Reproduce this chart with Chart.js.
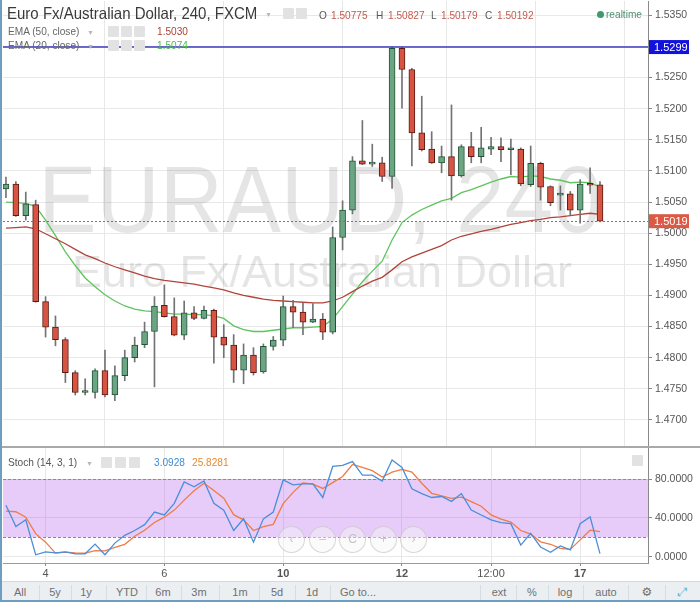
<!DOCTYPE html>
<html>
<head>
<meta charset="utf-8">
<title>EURAUD, 240</title>
<script src="https://cdn.jsdelivr.net/npm/chart.js@4.4.1/dist/chart.umd.min.js"></script>
<style>
html, body { margin: 0; padding: 0; background: #fff; }
body { width: 700px; height: 602px; overflow: hidden; font-family: "Liberation Sans", Arial, sans-serif; }
#wrap { position: relative; width: 700px; height: 602px; }
#main-box { position: absolute; left: 0; top: 0; width: 700px; height: 447px; }
#stoch-box { position: absolute; left: 0; top: 447px; width: 700px; height: 134px; }
canvas { display: block; }
.t { position: absolute; white-space: nowrap; line-height: 1; transform-origin: 0 50%; transform: scaleX(0.92); }
.dd { position: absolute; font-size: 7px; line-height: 1; color: #b8b8b8; }
.ico { position: absolute; width: 11px; height: 11px; background: #e2e2e2; border-radius: 1px; }
.nav { position: absolute; top: 526px; width: 25px; height: 25px; border-radius: 50%;
       border: 1px solid rgba(185, 185, 185, 0.55); background: rgba(246, 246, 246, 0.45);
       color: #c4c4c4; font-size: 12px; line-height: 25px; text-align: center; }
#tb { position: absolute; left: 0; top: 581px; width: 700px; height: 21px; background: #ebeff2; border-top: 1px solid #d3d9de; }
.tbi { position: absolute; top: 5px; width: 50px; margin-left: -25px; text-align: center; font-size: 11px; line-height: 1; color: #707070; }
.tbs { position: absolute; top: 3px; width: 1px; height: 15px; background: #d6dce1; }
</style>
</head>
<body>
<div id="wrap">
  <div id="main-box"><canvas id="main"></canvas></div>
  <div style="position:absolute;left:0;top:446px;width:700px;height:2px;background:#a9a9a9"></div>
  <div id="stoch-box"><canvas id="stoch"></canvas></div>

  <!-- header legend -->
  <div class="t" style="left:7px;top:5px;font-size:16.5px;color:#3a3a3a;transform:scaleX(0.91)">Euro Fx/Australian Dollar, 240, FXCM</div>
  <div class="dd" style="left:265px;top:11px">▼</div>
  <div class="ico" style="left:283px;top:8px"></div>
  <div class="ico" style="left:296px;top:8px"></div>
  <div class="t" style="left:319px;top:10px;font-size:11px;color:#555">O</div>
  <div class="t" style="left:331px;top:10px;font-size:11px;color:#c05a4c">1.50775</div>
  <div class="t" style="left:376px;top:10px;font-size:11px;color:#555">H</div>
  <div class="t" style="left:388px;top:10px;font-size:11px;color:#c05a4c">1.50827</div>
  <div class="t" style="left:431px;top:10px;font-size:11px;color:#555">L</div>
  <div class="t" style="left:441px;top:10px;font-size:11px;color:#c05a4c">1.50179</div>
  <div class="t" style="left:485px;top:10px;font-size:11px;color:#555">C</div>
  <div class="t" style="left:497px;top:10px;font-size:11px;color:#c05a4c">1.50192</div>
  <div style="position:absolute;left:597px;top:11px;width:7px;height:7px;border-radius:50%;background:#3d9a6e"></div>
  <div class="t" style="left:606px;top:9px;font-size:11px;color:#4f8f70">realtime</div>

  <div class="t" style="left:8px;top:26px;font-size:11px;color:#666">EMA (50, close)</div>
  <div class="dd" style="left:87px;top:29px">▼</div>
  <div class="ico" style="left:108px;top:26px"></div>
  <div class="ico" style="left:121px;top:26px"></div>
  <div class="ico" style="left:134px;top:26px"></div>
  <div class="t" style="left:157px;top:26px;font-size:11px;color:#a8443b">1.5030</div>

  <div class="t" style="left:8px;top:40px;font-size:11px;color:#666">EMA (20, close)</div>
  <div class="dd" style="left:87px;top:43px">▼</div>
  <div class="ico" style="left:108px;top:40px"></div>
  <div class="ico" style="left:121px;top:40px"></div>
  <div class="ico" style="left:134px;top:40px"></div>
  <div class="t" style="left:157px;top:40px;font-size:11px;color:#4cbc4c">1.5074</div>

  <!-- stoch legend -->
  <div class="t" style="left:8px;top:457px;font-size:11px;color:#555">Stoch (14, 3, 1)</div>
  <div class="dd" style="left:86px;top:460px">▼</div>
  <div class="ico" style="left:101px;top:457px"></div>
  <div class="ico" style="left:115px;top:457px"></div>
  <div class="ico" style="left:129px;top:457px"></div>
  <div class="t" style="left:154px;top:457px;font-size:11px;color:#3f8ad2">3.0928</div>
  <div class="t" style="left:192px;top:457px;font-size:11px;color:#e8892e">25.8281</div>
  <div class="ico" style="left:632px;top:455px"></div>

  <div class="nav" style="left:278px">&lsaquo;</div>
  <div class="nav" style="left:309px">&ndash;</div>
  <div class="nav" style="left:339px">C</div>
  <div class="nav" style="left:370px">+</div>
  <div class="nav" style="left:400px">&rsaquo;</div>

  <!-- bottom toolbar -->
  <div id="tb">
    <div class="tbi" style="left:20px">All</div>
    <div class="tbs" style="left:39px"></div>
    <div class="tbi" style="left:55px">5y</div>
    <div class="tbs" style="left:71px"></div>
    <div class="tbi" style="left:86px">1y</div>
    <div class="tbs" style="left:106px"></div>
    <div class="tbi" style="left:127px">YTD</div>
    <div class="tbs" style="left:146px"></div>
    <div class="tbi" style="left:163px">6m</div>
    <div class="tbs" style="left:181px"></div>
    <div class="tbi" style="left:199px">3m</div>
    <div class="tbs" style="left:219px"></div>
    <div class="tbi" style="left:240px">1m</div>
    <div class="tbs" style="left:259px"></div>
    <div class="tbi" style="left:277px">5d</div>
    <div class="tbs" style="left:295px"></div>
    <div class="tbi" style="left:312px">1d</div>
    <div class="tbs" style="left:330px"></div>
    <div class="tbi" style="left:358px;width:60px;margin-left:-30px">Go to...</div>
    <div class="tbs" style="left:480px"></div>
    <div class="tbi" style="left:499px">ext</div>
    <div class="tbs" style="left:516px"></div>
    <div class="tbi" style="left:532px">%</div>
    <div class="tbs" style="left:548px"></div>
    <div class="tbi" style="left:565px">log</div>
    <div class="tbs" style="left:583px"></div>
    <div class="tbi" style="left:606px">auto</div>
    <div class="tbs" style="left:628px"></div>
    <div class="tbi" style="left:647px;font-family:'DejaVu Sans';font-size:12px;top:4px">⚙</div>
    <div class="tbs" style="left:665px"></div>
    <div class="tbi" style="left:683px;font-family:'DejaVu Sans';font-size:12px;top:4px;color:#6aaecb">⤢</div>
  </div>

  <div style="position:absolute;left:0;top:0;width:2px;height:602px;background:#6d9ec0"></div>
  <div style="position:absolute;left:0;top:600px;width:700px;height:2px;background:#6d9ec0"></div>
</div>

<script>
// 240 minute candles
const opens = [1.5071, 1.5079, 1.5028, 1.5046, 1.4890, 1.4849, 1.4829, 1.4776, 1.4744, 1.4744,
  1.4779, 1.4740, 1.4771, 1.4800, 1.4821, 1.4842, 1.4884, 1.4866, 1.4836, 1.4872,
  1.4863, 1.4876, 1.4833, 1.4820, 1.4780, 1.4804, 1.4777, 1.4818, 1.4828, 1.4882,
  1.4873, 1.4857, 1.4862, 1.4841, 1.4993, 1.5037, 1.5116, 1.5111, 1.5113, 1.5091,
  1.5297, 1.5263, 1.5161, 1.5135, 1.5113, 1.5123, 1.5092, 1.5139, 1.5123, 1.5135,
  1.5139, 1.5134, 1.5135, 1.5078, 1.5112, 1.5075, 1.5061, 1.5063, 1.5037, 1.5079, 1.50775];
const highs = [1.5090, 1.5083, 1.5066, 1.5053, 1.4898, 1.4867, 1.4832, 1.4779, 1.4766, 1.4782,
  1.4812, 1.4787, 1.4812, 1.4833, 1.4857, 1.4898, 1.4917, 1.4896, 1.4891, 1.4882,
  1.4883, 1.4878, 1.4853, 1.4837, 1.4822, 1.4816, 1.4822, 1.4834, 1.4899, 1.4892,
  1.4888, 1.4887, 1.4871, 1.5010, 1.5052, 1.5123, 1.5181, 1.5143, 1.5122, 1.5299,
  1.5299, 1.5265, 1.5220, 1.5163, 1.5140, 1.5206, 1.5142, 1.5162, 1.5170, 1.5154,
  1.5153, 1.5151, 1.5137, 1.5140, 1.5114, 1.5076, 1.5076, 1.5067, 1.5086, 1.5105, 1.50827];
const lows = [1.5057, 1.5027, 1.5021, 1.4889, 1.4833, 1.4819, 1.4760, 1.4740, 1.4740, 1.4735,
  1.4737, 1.4731, 1.4763, 1.4793, 1.4816, 1.4753, 1.4865, 1.4835, 1.4829, 1.4861,
  1.4862, 1.4791, 1.4800, 1.4760, 1.4758, 1.4772, 1.4775, 1.4812, 1.4819, 1.4848,
  1.4837, 1.4856, 1.4829, 1.4838, 1.4973, 1.5031, 1.5110, 1.5107, 1.5083, 1.5072,
  1.5201, 1.5108, 1.5132, 1.5112, 1.5097, 1.5053, 1.5090, 1.5113, 1.5113, 1.5126,
  1.5115, 1.5094, 1.5076, 1.5075, 1.5053, 1.5044, 1.5037, 1.5029, 1.5016, 1.5064, 1.50179];
const closes = [1.5079, 1.5028, 1.5047, 1.4890, 1.4849, 1.4829, 1.4776, 1.4744, 1.4745, 1.4779,
  1.4740, 1.4771, 1.4800, 1.4820, 1.4842, 1.4883, 1.4866, 1.4836, 1.4872, 1.4863,
  1.4876, 1.4833, 1.4820, 1.4780, 1.4804, 1.4776, 1.4818, 1.4828, 1.4882, 1.4873,
  1.4857, 1.4862, 1.4841, 1.4993, 1.5037, 1.5116, 1.5111, 1.5112, 1.5091, 1.5297,
  1.5263, 1.5161, 1.5134, 1.5113, 1.5123, 1.5092, 1.5139, 1.5123, 1.5137, 1.5139,
  1.5134, 1.5135, 1.5079, 1.5112, 1.5074, 1.5049, 1.5062, 1.5037, 1.5079, 1.5077, 1.50192];

// moving averages
const ema50 = [1.5008, 1.5009, 1.5010, 1.5007, 1.4999, 1.4991, 1.4983, 1.4974, 1.4965, 1.4959,
  1.4952, 1.4946, 1.4941, 1.4936, 1.4931, 1.4927, 1.4924, 1.4922, 1.4920, 1.4918,
  1.4915, 1.4912, 1.4909, 1.4904, 1.4900, 1.4897, 1.4894, 1.4892, 1.4891, 1.4890,
  1.4889, 1.4888, 1.4888, 1.4891, 1.4897, 1.4906, 1.4915, 1.4923, 1.4929, 1.4941,
  1.4954, 1.4962, 1.4968, 1.4974, 1.4980, 1.4989, 1.4995, 1.4999, 1.5003, 1.5006,
  1.5010, 1.5014, 1.5017, 1.5020, 1.5022, 1.5025, 1.5026, 1.5028, 1.5030, 1.5032, 1.5030];
const ema20 = [1.5050, 1.5049, 1.5048, 1.5043, 1.5021, 1.4996, 1.4970, 1.4948, 1.4928, 1.4914,
  1.4901, 1.4891, 1.4883, 1.4878, 1.4875, 1.4874, 1.4872, 1.4870, 1.4870, 1.4869,
  1.4869, 1.4867, 1.4863, 1.4851, 1.4845, 1.4842, 1.4842, 1.4844, 1.4846, 1.4848,
  1.4848, 1.4849, 1.4850, 1.4862, 1.4882, 1.4902, 1.4922, 1.4939, 1.4955, 1.4989,
  1.5017, 1.5029, 1.5038, 1.5045, 1.5052, 1.5056, 1.5065, 1.5070, 1.5076, 1.5082,
  1.5087, 1.5091, 1.5090, 1.5092, 1.5091, 1.5087, 1.5085, 1.5081, 1.5082, 1.5081, 1.5074];

// stochastic
const stochK = [53, 31, 38, 2, 5, 4, 5, 3, 3, 13, 2, 14, 22, 27, 33, 46, 43, 55, 77, 72,
  78, 55, 48, 27, 39, 15, 39, 46, 79, 74, 75, 75, 61, 93, 94, 98, 84, 84, 78, 99.6,
  92, 70, 65, 61, 62, 57, 65, 48, 43, 38, 35, 34, 12, 24, 10, 4.5, 11, 7, 34, 41, 3.0928];
const stochD = [47, 46.3, 40.7, 23.7, 15, 3.7, 4.7, 4, 3.7, 6.3, 6, 9.7, 12.7, 21, 27.3, 35.3, 40.7, 48, 58.3, 68,
  75.7, 68.3, 60.3, 43.3, 38, 27, 31, 33.3, 54.7, 66.3, 76, 74.7, 70.3, 76.3, 82.7, 95, 92, 88.7, 82, 87.2,
  89.9, 87.2, 75.7, 65.3, 62.7, 60, 61.3, 56.7, 52, 43, 38.7, 35.7, 27, 23.3, 15.3, 12.8, 8.5, 7.5, 17.3, 27.3, 25.8281];

// axes
const dayTickIdx = [4, 16, 28, 40, 49, 58];
const dayTickText = ["4", "6", "10", "12", "12:00", "17"];
const dayTickBold = [false, false, true, true, false, true];
const priceTicks = [1.4700, 1.4750, 1.4800, 1.4850, 1.4900, 1.4950, 1.5000, 1.5050,
  1.5100, 1.5150, 1.5200, 1.5250, 1.5300, 1.5350];
const stochTicks = [0, 40, 80];
const hLinePrice = 1.5299;

const FONT = "'Liberation Sans', Arial, sans-serif";
const xMin = -0.3, xMax = 64.85;
const upColor = "#6ba583", downColor = "#d75442";
const upBorder = "#225437", downBorder = "#5b1a13";

function pts(arr) {
    return arr.map((v, i) => ({ x: i, y: v }));
}

// fixed axis width, and no extra room for the end labels
function fixWidth(w) {
    return (scale) => {
        scale.width = w;
        scale.paddingTop = 0;
        scale.paddingBottom = 0;
    };
}

// watermark, drawn lines and price labels
const mainOverlay = {
    id: "mainOverlay",
    beforeDatasetsDraw(chart) {
        let ctx = chart.ctx;
        let a = chart.chartArea;
        ctx.save();
        ctx.beginPath();
        ctx.rect(a.left, a.top, a.right - a.left, a.bottom - a.top);
        ctx.clip();
        ctx.fillStyle = "rgba(0,0,0,0.1)";
        ctx.textAlign = "center";
        ctx.textBaseline = "alphabetic";
        ctx.save();
        ctx.translate(320, 232);
        ctx.scale(0.93, 1);
        ctx.font = "94px " + FONT;
        ctx.fillText("EURAUD, 240", 0, 0);
        ctx.restore();
        ctx.font = "45px " + FONT;
        ctx.fillText("Euro Fx/Australian Dollar", 322, 287);
        ctx.restore();
    },
    afterDatasetsDraw(chart) {
        let ctx = chart.ctx;
        let a = chart.chartArea;
        let y = chart.scales.y;
        ctx.save();
        // last price line
        let yl = Math.round(y.getPixelForValue(closes[closes.length - 1])) + 0.5;
        ctx.strokeStyle = "#c85a4a";
        ctx.lineWidth = 1;
        ctx.setLineDash([2, 2]);
        ctx.beginPath();
        ctx.moveTo(a.left, yl);
        ctx.lineTo(a.right, yl);
        ctx.stroke();
        // horizontal line drawing
        let yh = y.getPixelForValue(hLinePrice);
        ctx.setLineDash([]);
        ctx.strokeStyle = "#3b3bc0";
        ctx.lineWidth = 1.4;
        ctx.beginPath();
        ctx.moveTo(a.left, yh);
        ctx.lineTo(a.right, yh);
        ctx.stroke();
        ctx.restore();
    },
    afterDraw(chart) {
        let ctx = chart.ctx;
        let a = chart.chartArea;
        let y = chart.scales.y;
        let boxes = [
            [hLinePrice, "#1212dc"],
            [closes[closes.length - 1], "#dc5a45"]
        ];
        ctx.save();
        for (let b of boxes) {
            let py = y.getPixelForValue(b[0]);
            ctx.fillStyle = b[1];
            ctx.fillRect(a.right + 1, py - 7, 40, 14);
            ctx.fillStyle = "#fff";
            ctx.font = "11px " + FONT;
            ctx.textAlign = "left";
            ctx.textBaseline = "middle";
            ctx.fillText(b[0].toFixed(4), a.right + 6, py + 0.5);
        }
        ctx.restore();
    }
};

new Chart(document.getElementById("main"), {
    type: "bar",
    data: {
        datasets: [{
            type: "line",
            data: pts(ema50),
            borderColor: "#b0443a",
            borderWidth: 1.3,
            pointRadius: 0,
            order: 3
        }, {
            type: "line",
            data: pts(ema20),
            borderColor: "#5ec45e",
            borderWidth: 1.3,
            pointRadius: 0,
            order: 3
        }, {
            data: lows.map((l, i) => ({ x: i, y: [l, highs[i]] })),
            backgroundColor: "#737375",
            barThickness: 1,
            grouped: false,
            order: 2
        }, {
            data: opens.map((o, i) => ({ x: i, y: [o, closes[i]] })),
            backgroundColor: opens.map((o, i) => closes[i] >= o ? upColor : downColor),
            borderColor: opens.map((o, i) => closes[i] >= o ? upBorder : downBorder),
            borderWidth: 1,
            borderSkipped: false,
            barThickness: 6,
            minBarLength: 2,
            grouped: false,
            order: 1
        }]
    },
    options: {
        responsive: true,
        maintainAspectRatio: false,
        animation: false,
        layout: { padding: { left: 3, top: 1, right: 0, bottom: 1 } },
        plugins: {
            legend: { display: false },
            tooltip: { enabled: false }
        },
        scales: {
            x: {
                type: "linear",
                min: xMin,
                max: xMax,
                offset: false,
                afterBuildTicks: (s) => { s.ticks = dayTickIdx.map((v) => ({ value: v })); },
                ticks: { display: false },
                grid: { color: "#e8e8e8", drawTicks: false },
                border: { display: false },
                afterFit: (s) => { s.height = 0; }
            },
            y: {
                position: "right",
                min: 1.4658,
                max: 1.5373,
                afterBuildTicks: (s) => { s.ticks = priceTicks.map((v) => ({ value: v })); },
                ticks: {
                    callback: (v) => v.toFixed(4),
                    color: "#555",
                    font: { size: 10.5, family: FONT },
                    padding: 3
                },
                grid: { color: "#e8e8e8", tickColor: "#888", tickLength: 4 },
                border: { color: "#8a8a8a" },
                afterFit: fixWidth(52)
            }
        }
    },
    plugins: [mainOverlay]
});

// stoch band 20..80
const stochOverlay = {
    id: "stochOverlay",
    beforeDatasetsDraw(chart) {
        let ctx = chart.ctx;
        let a = chart.chartArea;
        let y = chart.scales.y;
        let y80 = y.getPixelForValue(80);
        let y20 = y.getPixelForValue(20);
        ctx.save();
        ctx.fillStyle = "rgba(160, 50, 235, 0.25)";
        ctx.fillRect(a.left, y80, a.right - a.left, y20 - y80);
        ctx.strokeStyle = "#8a8a8a";
        ctx.lineWidth = 1;
        ctx.setLineDash([3, 2]);
        for (let py of [y80, y20]) {
            ctx.beginPath();
            ctx.moveTo(a.left, Math.round(py) + 0.5);
            ctx.lineTo(a.right, Math.round(py) + 0.5);
            ctx.stroke();
        }
        ctx.restore();
    }
};

new Chart(document.getElementById("stoch"), {
    type: "line",
    data: {
        datasets: [{
            data: pts(stochK),
            borderColor: "#4a8fd8",
            borderWidth: 1.3,
            pointRadius: 0
        }, {
            data: pts(stochD),
            borderColor: "#ef7b45",
            borderWidth: 1.3,
            pointRadius: 0
        }]
    },
    options: {
        responsive: true,
        maintainAspectRatio: false,
        animation: false,
        layout: { padding: { left: 3, top: 1, right: 0, bottom: 0 } },
        plugins: {
            legend: { display: false },
            tooltip: { enabled: false }
        },
        scales: {
            x: {
                type: "linear",
                min: xMin,
                max: xMax,
                offset: false,
                afterBuildTicks: (s) => { s.ticks = dayTickIdx.map((v) => ({ value: v })); },
                ticks: {
                    callback: (v) => dayTickText[dayTickIdx.indexOf(v)],
                    color: "#555",
                    autoSkip: false,
                    maxRotation: 0,
                    padding: 1,
                    font: (c) => ({
                        size: 11,
                        family: FONT,
                        weight: c.tick && dayTickBold[dayTickIdx.indexOf(c.tick.value)] ? "bold" : "normal"
                    })
                },
                grid: { color: "#e8e8e8", tickColor: "#888", tickLength: 3 },
                border: { color: "#9a9a9a" },
                afterFit: (s) => { s.height = 18; }
            },
            y: {
                position: "right",
                min: -6.5,
                max: 112,
                afterBuildTicks: (s) => { s.ticks = stochTicks.map((v) => ({ value: v })); },
                ticks: {
                    callback: (v) => v.toFixed(4),
                    color: "#555",
                    font: { size: 10.5, family: FONT },
                    padding: 3
                },
                grid: { color: "#e8e8e8", tickColor: "#888", tickLength: 4 },
                border: { color: "#8a8a8a" },
                afterFit: fixWidth(52)
            }
        }
    },
    plugins: [stochOverlay]
});
</script>
</body>
</html>
